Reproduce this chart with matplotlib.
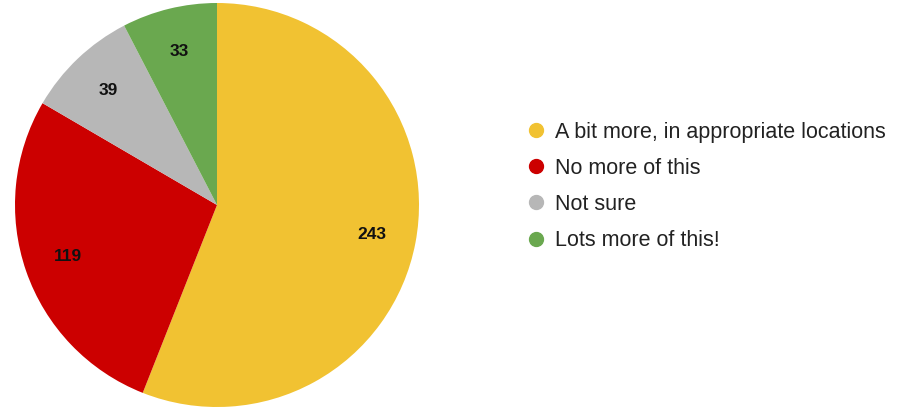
import matplotlib.pyplot as plt
from matplotlib.lines import Line2D

plt.rcParams["font.family"] = ["Liberation Sans", "DejaVu Sans"]

# Survey responses, in the order drawn (clockwise from 12 o'clock)
labels = ["A bit more, in appropriate locations", "No more of this", "Not sure", "Lots more of this!"]
counts = [243, 119, 39, 33]
colors = ["#F1C232", "#CC0000", "#B7B7B7", "#6AA84F"]

fig = plt.figure(figsize=(9.02, 4.08), dpi=100)
ax = fig.add_axes([15 / 902, 1 / 408, 404 / 902, 404 / 408])

wedges, texts = ax.pie(
    counts, colors=colors, startangle=90, counterclock=False,
    labels=[str(c) for c in counts], labeldistance=0.78,
    wedgeprops=dict(linewidth=0),
    textprops=dict(fontsize=12.5, fontweight="bold", color="#111111", ha="center", va="center"),
)
ax.set_aspect("equal")
ax.set_xlim(-1, 1)
ax.set_ylim(-1, 1)

handles = [Line2D([0], [0], marker="o", linestyle="", markersize=10,
                  markerfacecolor=c, markeredgecolor=c) for c in colors]
fig.legend(handles, labels, loc="center left", bbox_to_anchor=(514 / 902, 1 - 186.5 / 408),
           frameon=False, fontsize=15.5, handletextpad=0.4, labelspacing=0.7,
           handlelength=1.0, borderpad=0, labelcolor="#222222")

fig.savefig("out.png", dpi=100)
